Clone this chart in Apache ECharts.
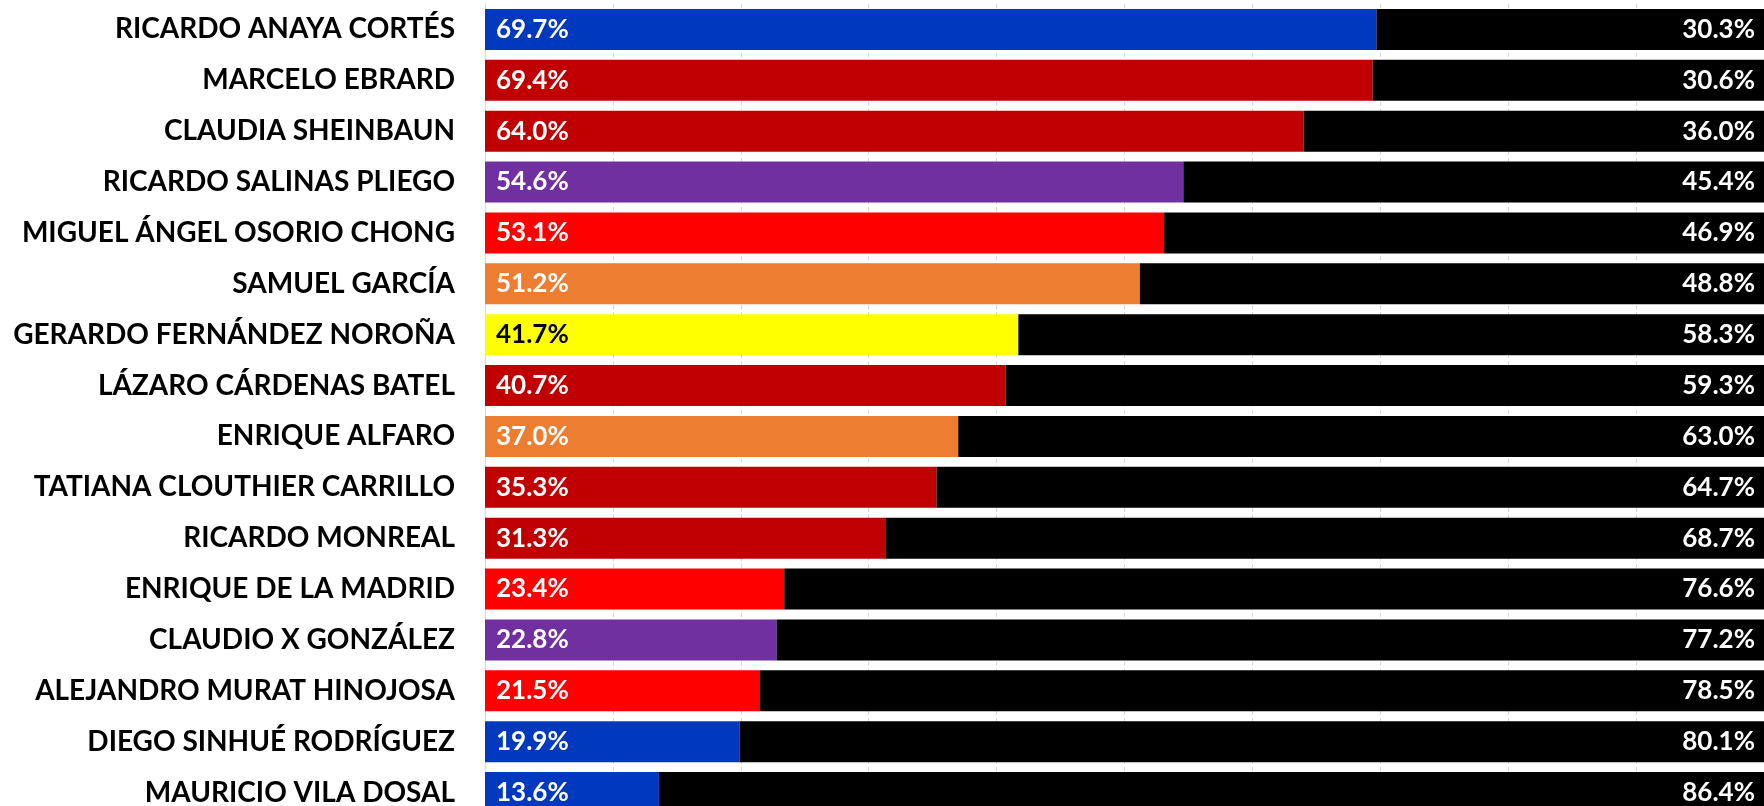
<!DOCTYPE html>
<html>
<head>
<meta charset="utf-8">
<script src="https://cdn.jsdelivr.net/npm/echarts@6/dist/echarts.min.js"></script>
<style>
html,body{margin:0;padding:0;background:#fff;}
#chart{width:1764px;height:806px;}
</style>
</head>
<body>
<div id="chart"></div>
<script>
const categories = [
  "RICARDO ANAYA CORTÉS",
  "MARCELO EBRARD",
  "CLAUDIA SHEINBAUN",
  "RICARDO SALINAS PLIEGO",
  "MIGUEL ÁNGEL OSORIO CHONG",
  "SAMUEL GARCÍA",
  "GERARDO FERNÁNDEZ NOROÑA",
  "LÁZARO CÁRDENAS BATEL",
  "ENRIQUE ALFARO",
  "TATIANA CLOUTHIER CARRILLO",
  "RICARDO MONREAL",
  "ENRIQUE DE LA MADRID",
  "CLAUDIO X GONZÁLEZ",
  "ALEJANDRO MURAT HINOJOSA",
  "DIEGO SINHUÉ RODRÍGUEZ",
  "MAURICIO VILA DOSAL"
];
const positiveValues = [69.7, 69.4, 64.0, 54.6, 53.1, 51.2, 41.7, 40.7, 37.0, 35.3, 31.3, 23.4, 22.8, 21.5, 19.9, 13.6];
const negativeValues = [30.3, 30.6, 36.0, 45.4, 46.9, 48.8, 58.3, 59.3, 63.0, 64.7, 68.7, 76.6, 77.2, 78.5, 80.1, 86.4];
const partyColors = ["#0039BE", "#C00000", "#C00000", "#7030A0", "#FF0000", "#ED7D31", "#FFFF00", "#C00000",
  "#ED7D31", "#C00000", "#C00000", "#FF0000", "#7030A0", "#FF0000", "#0039BE", "#0039BE"];
const labelColors = partyColors.map(c => c === "#FFFF00" ? "#000000" : "#FFFFFF");

const FONT = "Lato";
const chart = echarts.init(document.getElementById('chart'), null, {renderer: 'canvas'});
chart.setOption({
  animation: false,
  backgroundColor: '#ffffff',
  grid: {left: 485, right: 0, top: 4, height: 814, containLabel: false, outerBoundsMode: 'none'},
  xAxis: {
    type: 'value', min: 0, max: 100, interval: 10,
    axisLabel: {show: false}, axisTick: {show: false}, axisLine: {show: false},
    splitLine: {show: true, lineStyle: {color: '#D9D9D9', type: [4, 3], width: 1}}
  },
  yAxis: {
    type: 'category', data: categories, inverse: true,
    axisTick: {show: false},
    axisLine: {show: true, lineStyle: {color: '#D9D9D9', width: 1}},
    axisLabel: {color: '#000', fontFamily: FONT, fontWeight: 'bold', fontSize: 28, margin: 30}
  },
  series: [
    {
      type: 'bar', stack: 'total', barCategoryGap: '19.4%',
      data: positiveValues.map((v, i) => ({
        value: v,
        itemStyle: {color: partyColors[i]},
        label: {color: labelColors[i]}
      })),
      label: {
        show: true, position: 'insideLeft', distance: 11,
        fontFamily: FONT, fontWeight: 'bold', fontSize: 26,
        formatter: p => p.value.toFixed(1) + '%'
      }
    },
    {
      type: 'bar', stack: 'total', barCategoryGap: '19.4%',
      data: negativeValues,
      itemStyle: {color: '#000000'},
      label: {
        show: true, position: 'insideRight', distance: 9, color: '#fff',
        fontFamily: FONT, fontWeight: 'bold', fontSize: 26,
        formatter: p => p.value.toFixed(1) + '%'
      }
    }
  ]
});
</script>
</body>
</html>
